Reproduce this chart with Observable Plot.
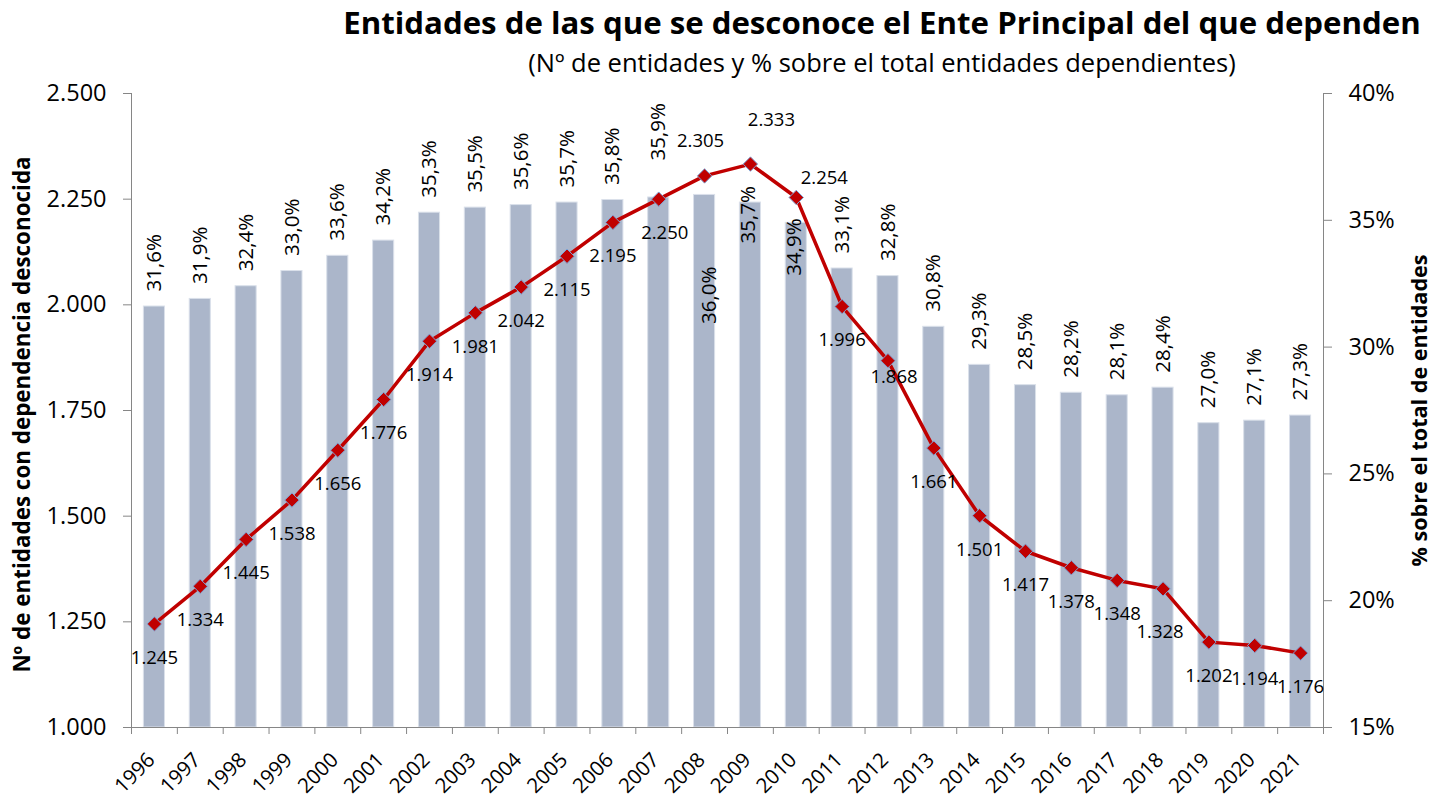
<!DOCTYPE html>
<html lang="es">
<head>
<meta charset="utf-8">
<script src="https://cdn.jsdelivr.net/npm/d3@7"></script>
<script src="https://cdn.jsdelivr.net/npm/@observablehq/plot@0.6"></script>
<style>
html,body{margin:0;padding:0;background:#fff;}
#wrap{position:relative;width:1443px;height:801px;overflow:hidden;font-family:"Open Sans",sans-serif;color:#000;}
#wrap svg{position:absolute;left:0;top:0;}
.hd{position:absolute;left:882px;transform:translateX(-50%);white-space:nowrap;line-height:1;}
#title{top:7px;font-size:31.2px;font-weight:700;}
#subtitle{top:50px;font-size:25.5px;}
</style>
</head>
<body>
<div id="wrap">
<div class="hd" id="title">Entidades de las que se desconoce el Ente Principal del que dependen</div>
<div class="hd" id="subtitle">(Nº de entidades y % sobre el total entidades dependientes)</div>
</div>
<script>
// ---- data ----
const years = [1996, 1997, 1998, 1999, 2000, 2001, 2002, 2003, 2004, 2005, 2006, 2007, 2008,
  2009, 2010, 2011, 2012, 2013, 2014, 2015, 2016, 2017, 2018, 2019, 2020, 2021];
const counts = [1245, 1334, 1445, 1538, 1656, 1776, 1914, 1981, 2042, 2115, 2195, 2250, 2305,
  2333, 2254, 1996, 1868, 1661, 1501, 1417, 1378, 1348, 1328, 1202, 1194, 1176];
const shares = [31.6, 31.9, 32.4, 33.0, 33.6, 34.2, 35.3, 35.5, 35.6, 35.7, 35.8, 35.9, 36.0,
  35.7, 34.9, 33.1, 32.8, 30.8, 29.3, 28.5, 28.2, 28.1, 28.4, 27.0, 27.1, 27.3];
const countTicks = [1000, 1250, 1500, 1750, 2000, 2250, 2500];
const shareTicks = [15, 20, 25, 30, 35, 40];
const leftTitle = "Nº de entidades con dependencia desconocida";
const rightTitle = "% sobre el total de entidades";

// ---- layout ----
const W = 1443, H = 801;
const margins = {marginTop: 93, marginBottom: 74, marginLeft: 131, marginRight: 120};
const xDomain = [years[0] - 0.5, years[years.length - 1] + 0.5];
const axisColor = "#868686";
const style = {background: "transparent", fontFamily: "Open Sans", color: "#000", overflow: "visible"};
// label nudges (pixels) for labels moved by hand in the original
const pctShift = {2007: [0, -37], 2008: [5, 129], 2009: [-2, 41], 2010: [-2, 53]};
const cntShift = {2007: [6, 34], 2008: [-4, -35], 2009: [21, -44], 2010: [28, -19], 2012: [6, 16], 2018: [-3, 43]};

const es = d3.formatLocale({decimal: ",", thousands: ".", grouping: [3], currency: ["", " €"]});
const fmtCount = es.format(",d");
const fmtShare = v => es.format(".1f")(v) + "%";

const rows = years.map((year, i) => ({year, count: counts[i], share: shares[i]}));

const barPlot = Plot.plot({
  width: W, height: H, ...margins, style,
  x: {domain: xDomain, axis: null},
  y: {domain: [15, 40], axis: null},
  marks: [
    Plot.rectY(rows, {x1: d => d.year - 0.23, x2: d => d.year + 0.23, y1: 15, y2: "share",
      fill: "#abb6ca", stroke: "#dae0ea", strokeWidth: 1}),
    ...rows.map(r => {
      const [dx, dy] = pctShift[r.year] || [0, -15];
      return Plot.text([r], {x: "year", y: "share", text: d => fmtShare(d.share), rotate: -90,
        textAnchor: "start", lineAnchor: "middle", dx, dy, fontSize: 20.5, fill: "#000"});
    }),
    Plot.ruleY([15], {stroke: axisColor}),
    Plot.ruleX([xDomain[1]], {stroke: axisColor}),
    Plot.axisY(shareTicks, {anchor: "right", label: null, tickSize: 8, tickPadding: 17, tickFormat: d => d + "%",
      fontSize: 23.5, stroke: axisColor, fill: "#000"}),
    Plot.axisX([...years.map(y => y - 0.5), xDomain[1]], {anchor: "bottom", label: null, tickSize: 7,
      tickFormat: () => "", stroke: axisColor}),
    Plot.axisX(years, {anchor: "bottom", label: null, tickSize: 0, tickRotate: -45, tickPadding: 29, dx: -3,
      tickFormat: d => String(d), fontSize: 20.5, fill: "#000"}),
    Plot.text([rightTitle], {frameAnchor: "right", textAnchor: "middle", lineAnchor: "middle", rotate: -90, dx: 97,
      fontWeight: "bold", fontSize: 21.6, fill: "#000"})
  ]
});

const linePlot = Plot.plot({
  width: W, height: H, ...margins, style,
  x: {domain: xDomain, axis: null},
  y: {domain: [1000, 2500], axis: null},
  marks: [
    Plot.ruleX([xDomain[0]], {stroke: axisColor}),
    Plot.axisY(countTicks, {anchor: "left", label: null, tickSize: 8, tickPadding: 17, tickFormat: fmtCount,
      fontSize: 23.5, stroke: axisColor, fill: "#000"}),
    Plot.text([leftTitle], {frameAnchor: "left", textAnchor: "middle", lineAnchor: "middle", rotate: -90, dx: -109, dy: 4,
      fontWeight: "bold", fontSize: 22.4, fill: "#000"}),
    Plot.line(rows, {x: "year", y: "count", stroke: "#c00000", strokeWidth: 3.5}),
    Plot.dot(rows, {x: "year", y: "count", symbol: "diamond2", r: 6.5, fill: "#c00000",
      stroke: "#7ea6d8", strokeWidth: 1}),
    ...rows.map(r => {
      const [dx, dy] = cntShift[r.year] || [0, 34];
      return Plot.text([r], {x: "year", y: "count", text: d => fmtCount(d.count), dx, dy,
        fontSize: 18.5, fill: "#000"});
    })
  ]
});

document.getElementById("wrap").append(barPlot, linePlot);
</script>
</body>
</html>
